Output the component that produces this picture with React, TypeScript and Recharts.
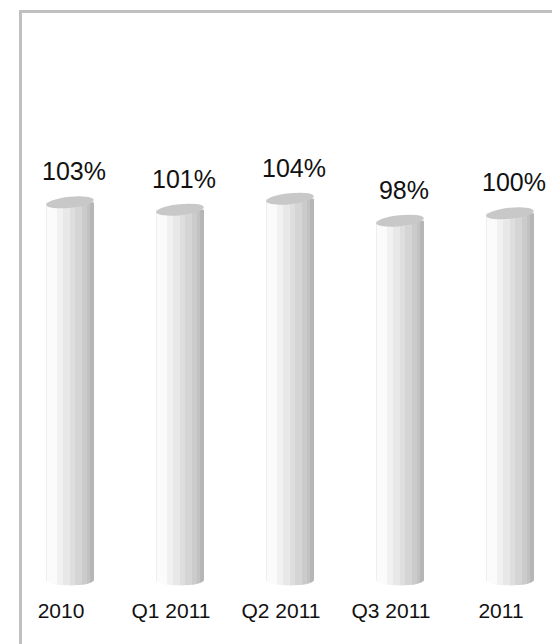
import React from "react";
import { BarChart, Bar, XAxis, YAxis, LabelList } from "recharts";

const categories = ["2010", "Q1 2011", "Q2 2011", "Q3 2011", "2011"];
const values = [103, 101, 104, 98, 100];

const data = categories.map((name, i) => ({ name, value: values[i] }));

const FONT = "'Liberation Sans', Arial, sans-serif";

// stepped shading across the cylinder, light on the left, darker on the right
const stripes: [number, number, string][] = [
  [0, 0.03, "#eeeeee"],
  [0.03, 0.22, "#fbfbfb"],
  [0.22, 0.35, "#f1f1f1"],
  [0.35, 0.5, "#e8e8e8"],
  [0.5, 0.6, "#dedede"],
  [0.6, 0.74, "#d5d5d5"],
  [0.74, 0.85, "#cbcbcb"],
  [0.85, 0.92, "#c2c2c2"],
  [0.92, 1, "#b6b6b6"],
];

const Cylinder = (props: any) => {
  const { x, y, width, height } = props;
  const rx = width / 2;
  const ry = 5.5;
  const bottom = y + height;
  const body = `M${x},${y} L${x},${bottom} A${rx},${ry} 0 0 0 ${x + width},${bottom} L${x + width},${y} Z`;
  return (
    <g>
      <path d={body} fill="url(#cylShade)" />
      <ellipse
        cx={x + rx}
        cy={y}
        rx={rx}
        ry={ry}
        fill="#c8c8c8"
        transform={`rotate(-6 ${x + rx} ${y})`}
      />
    </g>
  );
};

const ValueLabel = (props: any) => {
  const { x, y, width, value } = props;
  return (
    <text
      x={x + width / 2 + 4}
      y={y - 22}
      textAnchor="middle"
      fontFamily={FONT}
      fontSize={25}
      fill="#111"
    >
      {`${value}%`}
    </text>
  );
};

const CategoryTick = (props: any) => {
  const { x, payload } = props;
  return (
    <text
      x={x - 9}
      y={618}
      textAnchor="middle"
      fontFamily={FONT}
      fontSize={21}
      fill="#111"
    >
      {payload.value}
    </text>
  );
};

export default function App() {
  return (
    <div
      style={{
        position: "fixed",
        left: 0,
        top: 0,
        width: 552,
        height: 644,
        overflow: "hidden",
        background: "#fff",
      }}
    >
      <div
        style={{
          position: "absolute",
          left: 19,
          top: 10,
          width: 600,
          height: 700,
          borderTop: "3px solid #c0c0c0",
          borderLeft: "3px solid #c0c0c0",
        }}
      />
      <div style={{ position: "absolute", left: 0, top: 0 }}>
        <BarChart
          width={580}
          height={644}
          data={data}
          margin={{ top: 140, right: 15, bottom: 34, left: 15 }}
          barCategoryGap={0}
        >
          <defs>
            <linearGradient id="cylShade" x1="0" y1="0" x2="1" y2="0">
              {stripes.flatMap(([a, b, c], i) => [
                <stop key={`a${i}`} offset={a} stopColor={c} />,
                <stop key={`b${i}`} offset={b} stopColor={c} />,
              ])}
            </linearGradient>
          </defs>
          <XAxis
            dataKey="name"
            axisLine={false}
            tickLine={false}
            height={30}
            interval={0}
            tick={<CategoryTick />}
          />
          <YAxis hide domain={[0, 120]} />
          <Bar
            dataKey="value"
            barSize={48}
            shape={<Cylinder />}
            isAnimationActive={false}
          >
            <LabelList dataKey="value" content={<ValueLabel />} />
          </Bar>
        </BarChart>
      </div>
    </div>
  );
}
